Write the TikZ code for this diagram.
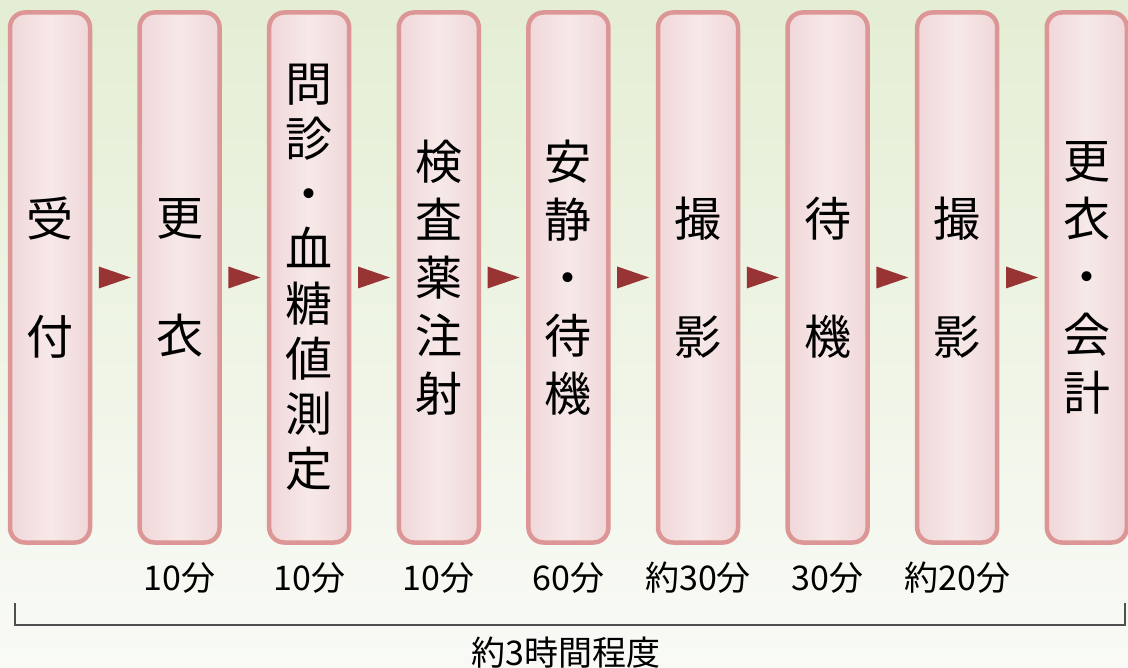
\documentclass[tikz,border=0pt]{standalone}
\usepackage{fontspec}
\setmainfont{Noto Sans CJK JP}
\usetikzlibrary{calc}
\definecolor{bgtop}{HTML}{E4EED4}
\definecolor{bgbottom}{HTML}{F9FAF6}
\definecolor{boxline}{HTML}{DC9696}
\definecolor{boxedge}{HTML}{F0D7D9}
\definecolor{boxmid}{HTML}{F7E9E9}
\definecolor{arrowred}{HTML}{983434}
\definecolor{bracketgray}{HTML}{505050}
\tikzset{
  stepbox/.style={draw=boxline, line width=4.5pt, rounded corners=15pt,
    minimum width=80pt, minimum height=530pt, inner sep=0pt, align=center,
    left color=boxedge, right color=boxedge, middle color=boxmid,
    font=\fontsize{47}{58}\selectfont},
  timelabel/.style={inner sep=0pt, font=\fontsize{34}{40}\selectfont},
  arrowtri/.style={fill=arrowred},
}
\begin{document}
\begin{tikzpicture}[x=1pt, y=-1pt]
    \shade[top color=bgtop, bottom color=bgbottom] (0,0) rectangle (1128,668);
    \useasboundingbox (0,0) rectangle (1128,668);

    % steps
    \node[stepbox] (uketsuke) at (50,277.5) {受\\[60pt]付};
    \node[stepbox] (koui) at (179.6,277.5) {更\\[60pt]衣};
    \node[stepbox, font=\fontsize{47}{55}\selectfont] (monshin) at (309.2,277.5) {問\\診\\・\\血\\糖\\値\\測\\定};
    \node[stepbox] (chusha) at (438.8,277.5) {検\\査\\薬\\注\\射};
    \node[stepbox] (taiki) at (568.4,277.5) {安\\静\\・\\待\\機};
    \node[stepbox] (satsuei) at (698,277.5) {撮\\[60pt]影};
    \node[stepbox] (taiki2) at (827.6,277.5) {待\\[60pt]機};
    \node[stepbox] (satsuei2) at (957.2,277.5) {撮\\[60pt]影};
    \node[stepbox] (kaikei) at (1086.8,277.5) {更\\衣\\・\\会\\計};

    % arrows between the steps
    \coordinate (a1) at ($(uketsuke.east)!0.5!(koui.west)$);
    \coordinate (a2) at ($(koui.east)!0.5!(monshin.west)$);
    \coordinate (a3) at ($(monshin.east)!0.5!(chusha.west)$);
    \coordinate (a4) at ($(chusha.east)!0.5!(taiki.west)$);
    \coordinate (a5) at ($(taiki.east)!0.5!(satsuei.west)$);
    \coordinate (a6) at ($(satsuei.east)!0.5!(taiki2.west)$);
    \coordinate (a7) at ($(taiki2.east)!0.5!(satsuei2.west)$);
    \coordinate (a8) at ($(satsuei2.east)!0.5!(kaikei.west)$);
    \fill[arrowtri] ($(a1)+(-16,-11)$) -- ($(a1)+(16,0)$) -- ($(a1)+(-16,11)$) -- cycle;
    \fill[arrowtri] ($(a2)+(-16,-11)$) -- ($(a2)+(16,0)$) -- ($(a2)+(-16,11)$) -- cycle;
    \fill[arrowtri] ($(a3)+(-16,-11)$) -- ($(a3)+(16,0)$) -- ($(a3)+(-16,11)$) -- cycle;
    \fill[arrowtri] ($(a4)+(-16,-11)$) -- ($(a4)+(16,0)$) -- ($(a4)+(-16,11)$) -- cycle;
    \fill[arrowtri] ($(a5)+(-16,-11)$) -- ($(a5)+(16,0)$) -- ($(a5)+(-16,11)$) -- cycle;
    \fill[arrowtri] ($(a6)+(-16,-11)$) -- ($(a6)+(16,0)$) -- ($(a6)+(-16,11)$) -- cycle;
    \fill[arrowtri] ($(a7)+(-16,-11)$) -- ($(a7)+(16,0)$) -- ($(a7)+(-16,11)$) -- cycle;
    \fill[arrowtri] ($(a8)+(-16,-11)$) -- ($(a8)+(16,0)$) -- ($(a8)+(-16,11)$) -- cycle;

    % durations
    \coordinate (timeline) at (0,578);
    \node[timelabel] (t2) at (koui |- timeline) {10分};
    \node[timelabel] (t3) at (monshin |- timeline) {10分};
    \node[timelabel] (t4) at (chusha |- timeline) {10分};
    \node[timelabel] (t5) at (taiki |- timeline) {60分};
    \node[timelabel] (t6) at (satsuei |- timeline) {約30分};
    \node[timelabel] (t7) at (taiki2 |- timeline) {30分};
    \node[timelabel] (t8) at (satsuei2 |- timeline) {約20分};

    % total
    \coordinate (bl) at (15,603);
    \coordinate (br) at (1125,603);
    \draw[bracketgray, line width=2.2pt] (bl) -- ++(0,22) -| (br);
    \node[timelabel] (total) at (566,653) {約3時間程度};
\end{tikzpicture}
\end{document}
